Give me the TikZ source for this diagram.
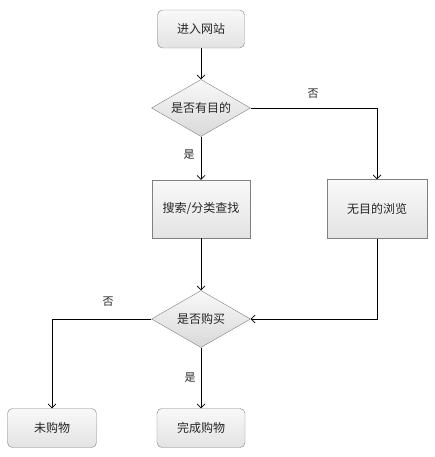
\documentclass[tikz,border=0pt]{standalone}
\usepackage{fontspec}
\setmainfont{Noto Sans CJK SC}
\usetikzlibrary{shapes.geometric, arrows.meta}

\tikzset{
  box/.style={draw=gray, top color=gray!5, bottom color=gray!22,
    minimum width=#1, minimum height=38pt, inner sep=0pt},
  rbox/.style={box=#1, rounded corners=5pt},
  decision/.style={diamond, draw=gray, top color=gray!5, bottom color=gray!30,
    minimum width=99pt, minimum height=57pt, inner sep=0pt, shape aspect=1.75},
  flow/.style={draw=black, line width=0.7pt, -{Straight Barb[length=4pt, width=8pt]}},
  lbl/.style={font=\fontsize{11}{13}\selectfont}
}

\begin{document}
\begin{tikzpicture}[x=1pt, y=-1pt, font=\fontsize{12}{14}\selectfont, text=black!85]

	% Canvas
	\useasboundingbox (0,0) rectangle (434,457);

	% Column positions
	\def\leftx{52}
	\def\midx{201}
	\def\rightx{377}

	% Nodes
	\node[rbox=87pt] (enter) at (\midx, 29) {进入网站};
	\node[decision] (aim) at (\midx, 108) {是否有目的};
	\node[box=98pt, minimum height=58pt] (search) at (\midx, 209) {搜索/分类查找};
	\node[box=100pt, minimum height=59pt] (browse) at (\rightx, 209) {无目的浏览};
	\node[decision] (buy) at (\midx, 319) {是否购买};
	\node[rbox=89pt, minimum height=39pt] (nobuy) at (\leftx, 428) {未购物};
	\node[rbox=88pt, minimum height=39pt] (done) at (\midx, 428) {完成购物};

	% Connectors
	\draw[flow] (enter) -- (aim);
	\draw[flow] (aim) -- (search);
	\draw[flow] (aim.east) -| (browse.north);
	\draw[flow] (search) -- (buy);
	\draw[flow] (browse.south) |- (buy.east);
	\draw[flow] (buy.west) -| (nobuy.north);
	\draw[flow] (buy) -- (done);

	% Labels
	\node[lbl] (no1) at (313, 94) {否};
	\node[lbl] (yes1) at (189, 155) {是};
	\node[lbl] (no2) at (108, 302) {否};
	\node[lbl] (yes2) at (190, 378) {是};

\end{tikzpicture}
\end{document}
